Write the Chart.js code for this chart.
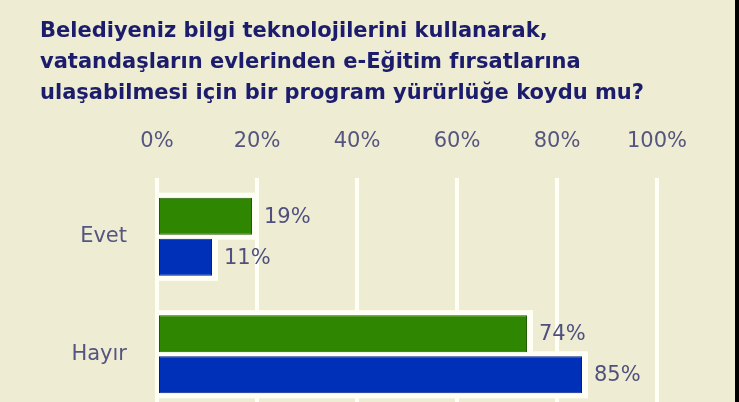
<!DOCTYPE html>
<html><head><meta charset="utf-8">
<script src="https://cdn.jsdelivr.net/npm/chart.js@4/dist/chart.umd.min.js"></script>
<style>
html,body{margin:0;padding:0;background:#000;overflow:hidden;width:739px;height:402px}
#wrap{position:relative;width:735px;height:420px;background:#eeecd3}
canvas{display:block}
</style></head><body>
<div id="wrap"><canvas id="c"></canvas></div>
<script>
const titleLines = [
  'Belediyeniz bilgi teknolojilerini kullanarak,',
  'vatandaşların evlerinden e-Eğitim fırsatlarına',
  'ulaşabilmesi için bir program yürürlüğe koydu mu?'
];
const categories = ['Evet', 'Hayır'];
const seriesA = [19, 74];
const seriesB = [11, 85];
const tickValues = [0, 20, 40, 60, 80, 100];
const tickLabels = ['0%', '20%', '40%', '60%', '80%', '100%'];

const haloPlugin = {
  id: 'halo',
  beforeDatasetsDraw(chart) {
    const ctx = chart.ctx;
    ctx.save();
    ctx.fillStyle = '#fffff6';
    chart.data.datasets.forEach((ds, i) => {
      chart.getDatasetMeta(i).data.forEach(bar => {
        const h = bar.height;
        ctx.fillRect(bar.base, bar.y - h / 2 - 5, bar.x - bar.base + 6, h + 10);
      });
    });
    ctx.restore();
  }
};
const labelPlugin = {
  id: 'vlabels',
  afterDatasetsDraw(chart) {
    const ctx = chart.ctx;
    ctx.save();
    ctx.fillStyle = '#50507e';
    ctx.font = '21px "DejaVu Sans"';
    ctx.textAlign = 'left';
    ctx.textBaseline = 'middle';
    chart.data.datasets.forEach((ds, i) => {
      chart.getDatasetMeta(i).data.forEach((bar, j) => {
        ctx.fillText(ds.data[j] + '%', bar.x + 12, bar.y + 1);
      });
    });
    ctx.restore();
  }
};

new Chart(document.getElementById('c'), {
  type: 'bar',
  data: {
    labels: categories,
    datasets: [
      { label: 'A', data: seriesA, backgroundColor: '#2f8600', borderColor: '#1f5c00', borderWidth: 1, borderSkipped: false,
        barPercentage: 0.9, categoryPercentage: 0.7 },
      { label: 'B', data: seriesB, backgroundColor: '#0030b8', borderColor: '#001f88', borderWidth: 1, borderSkipped: false,
        barPercentage: 0.9, categoryPercentage: 0.7 }
    ]
  },
  options: {
    indexAxis: 'y',
    responsive: true,
    maintainAspectRatio: false,
    devicePixelRatio: 1,
    animation: false,
    layout: { padding: { left: 40, right: 78, top: 0, bottom: 7 } },
    plugins: {
      legend: { display: false },
      tooltip: { enabled: false },
      title: {
        display: true,
        text: titleLines,
        align: 'start',
        color: '#1c1c6c',
        font: { family: '"DejaVu Sans"', weight: 'bold', size: 21, lineHeight: '31px' },
        padding: { top: 16, bottom: 9 }
      }
    },
    scales: {
      x: {
        position: 'top',
        min: 0, max: 100,
        afterBuildTicks(scale) { scale.ticks = tickValues.map(v => ({ value: v })); },
        afterFit(scale) { scale.height = 60; },
        ticks: {
          callback: (v) => tickLabels[tickValues.indexOf(v)],
          color: '#55557f',
          font: { family: '"DejaVu Sans"', size: 21 },
          padding: 24,
          maxRotation: 0
        },
        grid: { color: '#fffff6', lineWidth: 4, drawTicks: false },
        border: { display: false }
      },
      y: {
        afterFit(scale) { scale.width = 117; scale.paddingTop = 0; scale.paddingBottom = 0; },
        ticks: {
          color: '#55557f',
          font: { family: '"DejaVu Sans"', size: 21 },
          padding: 30
        },
        grid: { display: false, drawTicks: false },
        border: { display: false }
      }
    }
  },
  plugins: [haloPlugin, labelPlugin]
});
</script>
</body></html>
